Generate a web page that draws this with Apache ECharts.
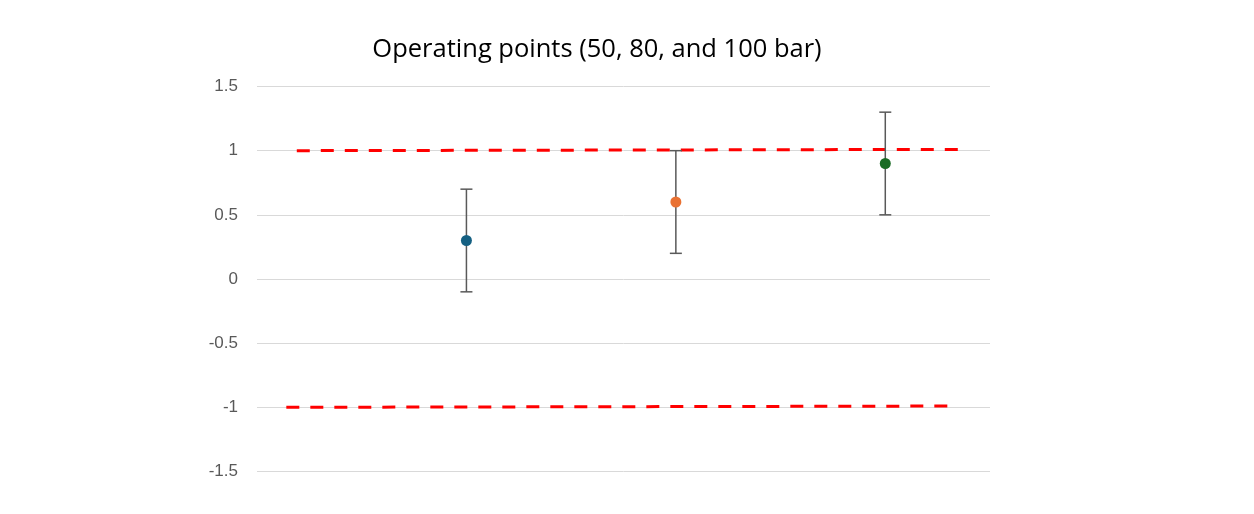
<!DOCTYPE html>
<html>
<head>
<meta charset="utf-8">
<script src="https://cdn.jsdelivr.net/npm/echarts@6/dist/echarts.min.js"></script>
<style>
  html, body { margin: 0; padding: 0; background: #fff; }
  #chart { width: 1254px; height: 514px; }
</style>
</head>
<body>
<div id="chart"></div>
<script>
// operating points (x positions on hidden axis)
const pointX = [1, 2, 3];
const pointY = [0.3, 0.6, 0.9];
const errLow = [-0.1, 0.2, 0.5];
const errHigh = [0.7, 1.0, 1.3];
const pointColors = ['#156082', '#E97132', '#196B24'];

// red dashed limit lines (start / end)
const upperLimitX = [0.19, 3.35];
const upperLimitY = [1.0, 1.01];
const lowerLimitX = [0.14, 3.3];
const lowerLimitY = [-1.0, -0.99];

const chart = echarts.init(document.getElementById('chart'));

chart.setOption({
  animation: false,
  title: {
    text: 'Operating points (50, 80, and 100 bar)',
    left: 592,
    textAlign: 'center',
    top: 32,
    textStyle: {
      fontFamily: 'Open Sans',
      fontSize: 25.5,
      fontWeight: 'normal',
      color: '#000'
    }
  },
  grid: {
    left: 257,
    right: 264,
    top: 86.5,
    bottom: 42.5
  },
  xAxis: {
    type: 'value',
    min: 0,
    max: 3.5,
    show: false
  },
  yAxis: {
    type: 'value',
    min: -1.5,
    max: 1.5,
    interval: 0.5,
    axisLine: { show: false },
    axisTick: { show: false },
    axisLabel: {
      color: '#595959',
      fontSize: 17,
      fontFamily: 'Liberation Sans',
      margin: 19
    },
    splitLine: {
      lineStyle: { color: '#d9d9d9', width: 1 }
    }
  },
  series: [
    {
      type: 'line',
      data: upperLimitX.map((x, i) => [x, upperLimitY[i]]),
      symbol: 'none',
      lineStyle: { color: '#FF0000', width: 3, type: [13, 11] },
      z: 3
    },
    {
      type: 'line',
      data: lowerLimitX.map((x, i) => [x, lowerLimitY[i]]),
      symbol: 'none',
      lineStyle: { color: '#FF0000', width: 3, type: [13, 11] },
      z: 3
    },
    {
      type: 'custom',
      data: pointX.map((x, i) => [x, errLow[i], errHigh[i]]),
      renderItem: function (params, api) {
        const lo = api.coord([api.value(0), api.value(1)]);
        const hi = api.coord([api.value(0), api.value(2)]);
        const half = 6;
        const style = { stroke: '#595959', lineWidth: 1.5 };
        return {
          type: 'group',
          children: [
            { type: 'line', shape: { x1: lo[0], y1: lo[1], x2: hi[0], y2: hi[1] }, style: style },
            { type: 'line', shape: { x1: lo[0] - half, y1: lo[1], x2: lo[0] + half, y2: lo[1] }, style: style },
            { type: 'line', shape: { x1: hi[0] - half, y1: hi[1], x2: hi[0] + half, y2: hi[1] }, style: style }
          ]
        };
      },
      z: 4
    },
    {
      type: 'scatter',
      data: pointX.map((x, i) => ({
        value: [x, pointY[i]],
        itemStyle: { color: pointColors[i], opacity: 1 }
      })),
      symbolSize: 11,
      z: 5
    }
  ]
});
</script>
</body>
</html>
